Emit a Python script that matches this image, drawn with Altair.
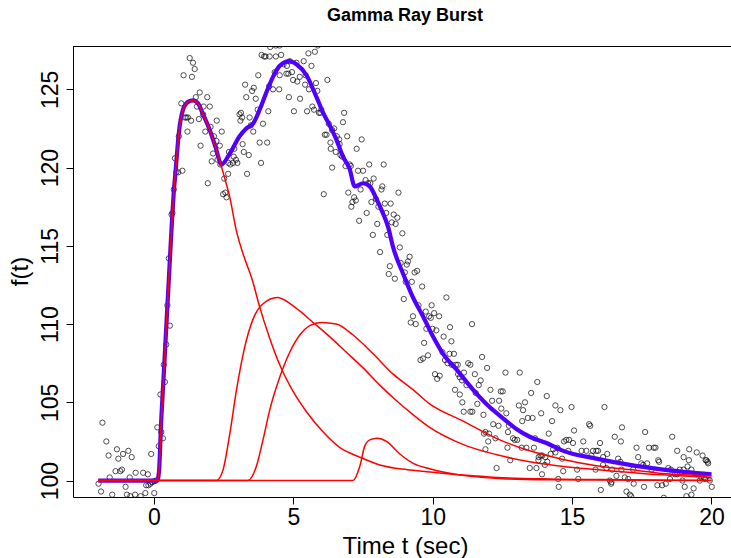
import altair as alt
import pandas as pd

obs_t = [
    -1.99, -1.90, -1.85, -1.71, -1.63, -1.59, -1.50, -1.38, -1.33, -1.28, -1.21, -1.15, -1.11,
    -1.02, -0.97, -0.92, -0.87, -0.85, -0.80, -0.68, -0.66, -0.48, -0.39, -0.31, -0.28, -0.22,
    -0.20, -0.13, -0.10, -0.07, 0.00, 0.01, 0.07, 0.12, 0.17, 0.26, 0.32,
    0.23, 0.35, 0.39, 0.44, 0.48, 0.53, 0.57,
    0.63, 0.66, 0.71, 0.75, 0.80, 0.87, 1.02, 0.89, 0.98, 1.11, 1.16, 1.22, 1.33, 1.20, 1.06,
    1.36, 1.28, 1.40, 1.46, 1.50, 1.64, 1.54, 1.78, 1.91, 2.00, 1.61, 1.76, 2.25, 2.03, 1.84,
    2.43, 2.15, 2.24, 1.67, 2.36, 2.12, 2.28, 2.07, 2.38, 1.93, 2.52, 2.66, 2.48, 2.56, 2.60,
    2.69, 2.88, 2.86, 2.94, 2.67, 2.74, 2.83, 2.99, 3.18, 3.22, 3.40, 3.34, 3.84, 3.79, 4.06,
    3.56, 3.47, 3.91, 3.12, 3.07, 3.16, 3.10, 3.43, 3.72, 4.10, 3.27, 3.58, 3.52, 3.31, 3.65,
    3.74, 4.13, 4.49, 4.27, 4.33, 4.51, 3.86, 3.95, 4.00, 4.15, 4.37, 4.56, 4.17, 4.37, 4.51,
    4.65, 4.87, 4.75, 4.82, 4.77, 4.95, 5.11, 5.37, 5.54, 5.23, 4.99, 5.14, 5.44, 5.42, 5.56,
    4.84, 5.24, 5.02, 5.49,
    5.88, 5.77, 5.65, 5.81, 5.86, 6.22, 5.68, 5.74, 6.00, 5.97, 5.92, 6.82, 6.78, 6.27, 6.46,
    6.39, 6.13, 6.19, 6.56, 6.93, 6.64, 7.45, 6.33, 6.66, 6.34, 7.27, 6.52, 6.69, 6.75, 6.87,
    7.02, 7.06, 6.39, 7.32, 7.72, 8.24, 7.50, 7.59, 7.68, 7.76, 7.88, 8.19, 8.16, 7.41, 6.09,
    6.97, 7.18, 7.24, 7.12, 7.08, 7.80, 7.96, 8.05, 8.28, 8.49, 8.77, 7.63, 8.33, 8.60, 8.73,
    8.53, 8.67, 7.36, 8.01,
    7.85, 8.37, 8.91, 8.82, 8.11, 9.17, 9.11, 9.07, 8.85, 8.46, 9.00, 9.44, 9.35, 8.42, 8.64,
    9.03, 9.25, 9.62, 10.49, 8.96, 9.49, 9.96, 9.75, 10.05, 10.23, 9.87, 9.93, 9.29, 9.21, 9.39,
    10.62, 11.41, 9.77, 9.99, 10.13, 10.39, 10.67, 9.69, 10.35, 10.60, 10.76, 9.83, 9.65, 9.56,
    11.77, 10.44, 10.53, 10.68, 10.83, 10.90, 11.27, 11.35, 11.95, 12.61, 13.12, 10.08, 10.25,
    10.16, 11.12, 11.51, 10.91, 10.97, 11.05, 11.72, 11.65, 13.75, 11.21, 10.80, 10.97, 11.54,
    12.07, 12.44, 12.51, 13.53, 14.09, 11.06, 11.60, 12.13, 12.38, 13.09, 13.31, 11.11, 11.35,
    11.42, 11.82, 12.46, 12.64, 13.24, 13.89, 13.41, 13.58,
    14.40, 14.58, 14.98, 16.16, 14.28, 12.17, 12.36, 12.73, 13.21, 15.07, 15.40, 15.61, 15.65,
    16.53, 16.75, 16.79, 17.62, 18.59, 18.77, 19.20, 19.47, 19.68, 19.79, 19.86, 19.00, 19.00,
    11.89, 11.84, 12.02, 12.25, 11.99, 11.89, 12.70, 12.88, 12.94, 13.03, 12.68, 12.78, 12.29,
    13.19, 13.36, 13.63, 13.67, 14.16, 13.80, 13.87, 13.93, 14.04, 14.11, 14.02, 13.79, 13.48,
    13.72, 13.92, 14.23, 14.32, 14.47, 14.40, 14.64, 14.71, 14.79, 14.89, 15.03, 14.86, 14.68,
    14.50, 14.52, 15.18, 15.22, 15.34, 15.51, 15.69, 15.75, 15.87, 15.93, 15.84, 16.00, 16.11,
    16.26, 16.11, 16.23, 16.03, 16.35, 16.41, 16.40, 16.59, 16.44, 16.65, 16.73, 16.77, 16.89,
    17.01, 16.95, 17.07, 17.12, 17.19, 17.31, 17.37, 17.48, 17.21, 17.58, 17.55, 17.69, 17.76,
    17.85, 17.93, 17.99, 18.09, 18.12, 18.06, 18.23, 18.36, 18.45, 18.51, 18.54, 18.69, 18.77,
    18.86, 18.96, 19.04, 19.10, 19.14, 19.19, 19.28, 19.36, 19.46, 19.58, 19.64, 19.73, 19.77,
    19.94, 20.01, 19.82, 19.88, 19.28, 18.29,
]
obs_f = [
    99.8, 99.3, 103.7, 102.5, 101.6, 100.2, 99.1, 100.6, 102.0, 101.4, 100.6, 100.7, 101.7,
    99.6, 99.1, 101.9, 100.2, 99.0, 101.5, 99.1, 100.5, 99.0, 100.5, 99.2, 99.7, 100.4,
    99.7, 99.8, 101.7, 99.9, 99.95, 99.2, 100.0, 103.4, 102.2, 103.1, 102.7,
    105.5, 107.4, 106.3, 108.7, 111.2, 114.2, 109.9,
    117.0, 117.1, 118.6, 120.6, 119.7, 119.7, 119.8, 122.0, 124.1, 123.2, 123.2, 123.2, 123.0, 122.3, 125.9,
    125.8, 127.0, 126.7, 126.3, 124.5, 124.8, 123.9, 123.9, 124.5, 123.9, 123.1, 123.4, 123.0, 122.6, 122.3,
    122.3, 122.0, 121.7, 121.4, 121.4, 120.9, 120.5, 120.4, 120.2, 119.0, 119.3, 119.6, 118.3, 118.4, 118.1,
    121.0, 121.2, 120.7, 120.5, 120.3, 120.2, 120.3, 120.3, 121.5, 121.0, 120.8, 119.6, 120.3, 121.6, 121.6,
    122.3, 122.7, 122.8, 123.5, 123.4, 123.2, 123.0, 123.2, 123.7, 123.6, 125.3, 125.1, 124.9, 124.5, 124.4,
    125.9, 125.2, 125.0, 125.0, 126.1, 125.9, 127.2, 127.1, 127.1, 127.1, 127.1, 127.2, 127.7, 127.8, 127.8,
    126.6, 126.8, 126.0, 126.0, 126.5, 126.1, 126.7, 126.8, 127.3, 125.8, 125.6, 125.5, 125.9, 125.3, 125.0,
    124.5, 124.4, 123.6, 123.6,
    127.8, 127.4, 126.5, 125.4, 124.9, 125.6, 123.9, 123.7, 123.7, 123.5, 123.5, 123.5, 122.9, 122.8, 122.5,
    122.4, 122.1, 122.1, 122.0, 122.0, 121.8, 121.8, 121.6, 121.5, 121.2, 121.2, 121.0, 120.8, 120.7, 120.1,
    120.2, 120.1, 120.0, 119.8, 120.2, 120.2, 119.8, 119.2, 119.0, 119.0, 119.3, 118.8, 118.6, 118.6, 118.3,
    118.4, 118.1, 117.9, 117.8, 117.5, 117.8, 118.0, 117.5, 117.7, 117.7, 118.4, 117.1, 117.1, 117.0, 116.8,
    116.5, 116.4, 116.6, 116.4,
    115.7, 115.7, 115.8, 114.9, 114.6, 114.3, 114.0, 113.8, 113.9, 113.7, 113.3, 113.4, 113.3, 113.2, 112.9,
    112.7, 112.7, 112.4, 111.7, 111.6, 111.2, 111.2, 110.8, 110.7, 110.5, 110.5, 110.4, 110.5, 110.1, 110.0,
    109.8, 110.0, 109.7, 109.7, 109.6, 109.2, 108.9, 108.8, 108.2, 108.1, 108.1, 108.0, 107.8, 107.7,
    107.9, 107.7, 107.5, 107.4, 107.4, 107.4, 107.5, 107.4, 107.2, 106.9, 106.9, 106.8, 106.7,
    106.5, 106.9, 106.8, 106.8, 106.6, 106.4, 106.4, 106.1, 106.3, 106.1, 105.8, 105.5, 105.6,
    105.8, 105.7, 105.7, 105.6, 105.4, 105.0, 104.9, 105.1, 105.1, 104.8, 105.0, 104.4, 104.4,
    104.4, 104.2, 104.6, 104.3, 104.5, 104.3, 104.0, 104.0,
    104.8, 104.5, 104.7, 104.7, 103.8, 103.6, 103.5, 103.5, 103.8, 103.2, 102.5, 103.6, 103.5,
    102.8, 102.5, 103.4, 103.1, 102.8, 101.9, 102.0, 101.8, 101.6, 101.3, 101.2, 101.5, 100.7,
    103.1, 103.0, 103.0, 102.7, 102.5, 102.0, 103.1, 102.7, 102.6, 102.6, 102.1, 101.3, 100.8,
    102.1, 102.1, 102.1, 102.7, 103.0, 101.5, 101.6, 101.6, 101.5, 101.2, 101.0, 101.3, 100.8,
    100.8, 100.4, 101.7, 102.0, 102.1, 101.8, 101.4, 102.5, 102.6, 102.6, 102.4, 101.9, 100.6,
    100.1, 99.6, 100.7, 100.1, 101.9, 101.9, 101.6, 101.9, 101.9, 101.9, 100.7, 102.4, 101.5,
    101.7, 101.0, 100.8, 99.4, 100.0, 99.9, 99.8, 100.3, 100.7, 101.4, 101.2, 100.7, 100.2,
    100.1, 99.3, 99.1, 99.0, 100.7, 102.1, 101.5, 101.1, 99.8, 99.6, 101.0, 101.1, 102.1,
    100.7, 102.1, 102.1, 101.3, 101.2, 99.7, 99.7, 99.8, 100.8, 100.1, 100.7, 100.4, 100.4,
    100.7, 100.0, 99.6, 99.0, 100.9, 101.3, 100.7, 99.5, 100.4, 100.0, 100.2, 100.2, 100.1,
    100.0, 99.6, 101.3, 101.1, 99.1, 98.9,
]

# ---------------- fitted pulses ----------------
pulse1_t = [-2.0, 0.12, 0.18, 0.26, 0.35, 0.44, 0.53, 0.62, 0.70, 0.78, 0.89, 1.04, 1.22, 1.40,
            1.58, 1.76, 2.00, 2.21, 2.38, 2.54, 2.72, 2.95, 3.25, 3.53, 3.79, 4.15, 4.51, 4.99,
            5.47, 6.07, 6.67, 7.38, 8.10, 9.05, 9.90, 11.10, 12.30, 14.20, 17.00, 20.00]
pulse1_f = [100.0, 100.0, 100.6, 103.9, 106.8, 109.8, 112.8, 115.8, 118.2, 119.9, 122.2, 123.7,
            124.2, 124.3, 124.1, 123.4, 122.4, 121.3, 120.3, 119.3, 118.1, 116.0, 114.2, 112.8,
            111.1, 109.1, 107.4, 105.7, 104.4, 103.1, 102.1, 101.5, 101.0, 100.7, 100.55,
            100.35, 100.2, 100.1, 100.05, 100.0]

pulse2_t = [-2.0, 2.24, 2.48, 2.72, 2.96, 3.25, 3.55, 3.91, 4.43, 5.11, 5.71, 6.30, 6.90, 7.50,
            8.10, 8.70, 9.30, 9.89, 11.10, 12.30, 13.48, 14.68, 15.87, 17.50, 20.00]
pulse2_f = [100.0, 100.0, 100.7, 103.0, 105.8, 108.5, 110.3, 111.3, 111.7, 111.0, 110.1, 109.2,
            108.2, 107.2, 106.1, 105.1, 104.2, 103.4, 102.3, 101.65, 101.2, 100.9, 100.7, 100.45,
            100.2]

pulse3_t = [-2.0, 3.37, 3.67, 3.91, 4.15, 4.51, 4.87, 5.23, 5.59, 6.00, 6.54, 7.14, 7.86, 8.58,
            9.30, 9.89, 11.09, 12.28, 13.48, 14.68, 15.87, 17.07, 18.27, 20.00]
pulse3_f = [100.0, 100.0, 100.9, 102.6, 104.5, 106.6, 108.2, 109.3, 109.9, 110.1, 110.0, 109.3,
            108.1, 106.8, 105.8, 104.9, 103.8, 102.7, 101.9, 101.35, 100.95, 100.7, 100.45, 100.3]

pulse4_t = [-2.0, 7.14, 7.38, 7.56, 7.74, 8.00, 8.34, 8.82, 9.30, 9.89, 11.20, 12.50, 14.20, 20.00]
pulse4_f = [100.0, 100.0, 100.9, 102.2, 102.6, 102.7, 102.5, 101.7, 101.1, 100.75, 100.3, 100.12,
            100.05, 100.0]

total_t = [-2.0, 0.12, 0.18, 0.26, 0.35, 0.44, 0.53, 0.62, 0.70, 0.78, 0.89, 1.04, 1.22, 1.40,
           1.58, 1.76, 2.00, 2.21, 2.42, 2.72, 3.07, 3.31, 3.55, 3.79, 4.03, 4.27, 4.51, 4.87,
           5.11, 5.47, 5.83, 6.07, 6.30, 6.54, 6.78, 7.02, 7.20, 7.50, 7.74, 7.98, 8.16, 8.40,
           8.58, 8.94, 9.29, 9.65, 10.01, 10.37, 10.85, 11.45, 12.04, 12.58, 13.00, 13.48, 14.08,
           14.68, 15.87, 17.07, 18.27, 20.00]
total_f = [100.0, 100.0, 100.6, 103.9, 106.8, 109.8, 112.8, 115.8, 118.2, 119.9, 122.2, 123.7,
           124.2, 124.3, 124.1, 123.4, 122.4, 121.3, 120.2, 120.9, 122.0, 122.5, 122.8, 123.7,
           124.8, 125.8, 126.5, 126.8, 126.6, 125.9, 124.5, 123.5, 122.7, 121.8, 120.7, 119.9,
           118.8, 119.0, 118.8, 118.0, 117.3, 116.2, 114.9, 113.2, 111.7, 110.5, 109.2, 108.1,
           107.1, 105.8, 104.7, 103.9, 103.3, 102.8, 102.4, 101.9, 101.4, 101.0, 100.7, 100.4]

x_ticks = [0, 5, 10, 15, 20]
y_ticks = [100, 105, 110, 115, 120, 125]
title_text = ["Gamma Ray Burst"]

# ---------------- tables ----------------
points_df = pd.DataFrame({"t": obs_t, "f": obs_f})
red_df = pd.concat([
    pd.DataFrame({"t": pulse1_t, "f": pulse1_f, "pulse": "1"}),
    pd.DataFrame({"t": pulse2_t, "f": pulse2_f, "pulse": "2"}),
    pd.DataFrame({"t": pulse3_t, "f": pulse3_f, "pulse": "3"}),
    pd.DataFrame({"t": pulse4_t, "f": pulse4_f, "pulse": "4"}),
], ignore_index=True)
total_df = pd.DataFrame({"t": total_t, "f": total_f})
title_df = pd.DataFrame({"label": title_text})

W, H = 658, 451
FONT = "Liberation Sans"

x_enc = alt.X("t:Q",
              scale=alt.Scale(domain=[-2.906, 20.70], nice=False, zero=False),
              axis=alt.Axis(values=x_ticks, title="Time t (sec)", format="d",
                            titleX=332, titleY=56, titleBaseline="alphabetic",
                            titleAlign="center", labelPadding=2))
y_enc = alt.Y("f:Q",
              scale=alt.Scale(domain=[98.95, 127.77], nice=False, zero=False),
              axis=alt.Axis(values=y_ticks, title="f(t)", format="d",
                            labelAngle=270, labelAlign="center", labelBaseline="alphabetic",
                            labelPadding=9, titleAngle=270, titleX=-46, titleY=225,
                            titleAlign="center", titleBaseline="alphabetic"))

pts = alt.Chart(points_df).mark_point(
    shape="circle", filled=False, color="black", size=28, strokeWidth=1, clip=True
).encode(x=x_enc, y=y_enc)

total_line = alt.Chart(total_df).mark_line(
    color="#5000ff", strokeWidth=4.2, interpolate="monotone", clip=True
).encode(x=x_enc, y=y_enc, order="t:Q")

red_lines = alt.Chart(red_df).mark_line(
    color="#ff0000", strokeWidth=1.5, interpolate="monotone", clip=True
).encode(x=x_enc, y=y_enc, detail="pulse:N", order="t:Q")

top_border = alt.Chart(pd.DataFrame({"k": [0]})).mark_rule(
    color="black", strokeWidth=1
).encode(x=alt.value(0), x2=alt.value(W), y=alt.value(0.5))

title_mark = alt.Chart(title_df).mark_text(
    font=FONT, fontSize=18, fontWeight="bold",
    color="black", align="center", baseline="alphabetic"
).encode(text="label:N", x=alt.value(332), y=alt.value(-25))

chart = alt.layer(pts, total_line, red_lines, top_border, title_mark).properties(
    width=W, height=H,
    padding={"left": 73, "top": 46, "right": 0, "bottom": 61},
    autosize=alt.AutoSizeParams(type="none"),
    background="white",
).configure_view(stroke=None).configure_axis(
    labelFont=FONT, labelFontSize=23, labelColor="black",
    titleFont=FONT, titleFontSize=24, titleFontWeight="normal", titleColor="black",
    tickColor="black", tickSize=7, tickWidth=1,
    domainColor="black", domainWidth=1, grid=False,
    labelFlush=False, labelOverlap=False,
)

chart.save("out.html", embed_options={"renderer": "svg", "actions": False})
